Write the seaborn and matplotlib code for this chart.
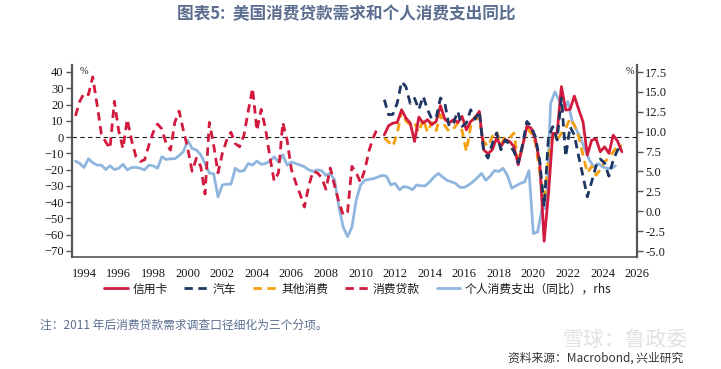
import numpy as np
import pandas as pd
import seaborn as sns
import matplotlib.pyplot as plt
from matplotlib.lines import Line2D

# ---- data (quarterly) ----
# consumer loan demand, 1993Q3 - 2011Q1 (left axis, %)
loan_start = 1993.5
loan_vals = [13, 22,
             27, 26, 37, 20,
             2, -3, -7, 22,
             4, -7, 11, -2,
             -12, -15, -14, -5,
             3, 8, 5, -4,
             -8, 9, 16, 4,
             -7, -21, -13, -18,
             -35, 9, -5, -22,
             -10, -2, 3, -4,
             -6, 1, 16, 30,
             4, 17, 5, -12,
             -27, -22, 9, -2,
             -20, -28, -35, -43,
             -30, -21, -22, -25,
             -32, -19, -30, -40,
             -48, -46, -18, -22,
             -28, -20, -8, 0,
             6]

# personal consumption expenditure yoy, 1993Q3 - 2024Q4 (right axis, %)
pce_start = 1993.5
pce_vals = [6.3, 6.0,
            5.5, 6.6, 6.1, 5.8,
            5.8, 5.25, 5.7, 5.25,
            5.4, 5.9, 5.2, 5.5,
            5.5, 5.4, 5.2, 5.8,
            5.7, 5.4, 6.85, 6.5,
            6.6, 6.6, 7.0, 7.5,
            8.9, 7.9, 7.7, 7.1,
            6.0, 4.8, 4.7, 1.8,
            3.3, 3.4, 3.4, 5.4,
            5.0, 5.1, 6.0, 5.8,
            6.3, 5.9, 6.0, 6.3,
            6.85, 6.2, 7.1, 5.8,
            6.2, 6.0, 5.8, 5.6,
            5.2, 5.0, 5.2, 5.1,
            4.5, 4.8, 3.9, 0.5,
            -2.0, -3.2, -2.0, 1.4,
            3.3, 3.9, 4.0, 4.1,
            4.3, 4.5, 4.4, 3.3,
            3.5, 2.7, 3.1, 3.0,
            2.7, 3.3, 3.2, 3.2,
            3.7, 4.3, 4.75, 4.3,
            3.9, 3.7, 3.5, 3.0,
            3.0, 3.3, 3.7, 4.2,
            4.75, 3.9, 4.4, 5.1,
            5.0, 5.4, 4.5, 2.9,
            3.2, 3.5, 3.7, 5.1,
            -2.8, -2.6, 0.35, 0.35,
            13.55, 15.0, 13.9, 12.7,
            13.8, 11.3, 10.2, 9.1,
            7.7, 6.4, 5.6, 6.0,
            5.6, 5.4, 5.4, 5.7]

# split series since 2011Q2 (plotted mid-quarter)
split_start = 2011.375
card_vals = [1.4, 7, 8.6,
             9, 16.8, 11.7, 8.6,
             -2.7, 12.3, 8.6, 10.7,
             7.6, 9.6, 19.3, 11,
             8.6, 10.7, 9, 12.7,
             4.5, 9.6, 11.7, 15.8,
             -7.8, -10.2, -7.8, -0.6,
             -5.7, -1.6, -2.7, -5.7,
             -17, -5.7, 6.6, 5.5,
             -1.6, -16, -64, -35,
             2.3, 2.3, 31, 16.6,
             17, 25.2, 17, 9.4,
             -11, -2, -1, -9,
             -6, -10, 1.2, -2.5,
             -9]
auto_vals = [23, 13.7, 14,
             21, 34, 31, 20.7,
             23.8, 17, 25, 17,
             11, 12, 24, 21,
             6.6, 8.6, 15.8, 6.6,
             8.6, 16.8, 11, 15.8,
             -8.8, -12.9, -4, 2.5,
             -7.8, -1.6, -4.7, -8.8,
             -16, -4.7, 9.6, 6.6,
             0, -15, -43, 0,
             6.4, -1.8, 24, -12,
             6.4, 1.2, -12, -24,
             -36.7, -27.5, -18, -13.5,
             -16, -24, -14, -8,
             -5.5]
other_vals = [-0.6, -3, -5.7,
              2.5, 15.8, 10, 7.6,
              8.6, 3, 11, 3,
              9, 4, 13.7, 7,
              3.5, 5, 8.6, 4,
              -8.8, 6.6, 12.7, 10,
              -2.7, -5.7, 0.4, 3.5,
              -4.7, 0.4, -0.6, 2.5,
              -15, -5.7, 5.5, 2.5,
              -3.7, -22, -40.8, -12,
              0.2, -1.8, 2.3, 5.3,
              11.5, 7.4, 0.2, -11,
              -22, -18, -23.4, -20,
              -15, -13, -9, -5.5,
              -5.5]

x_ticks = list(range(1994, 2027, 2))
left_ticks = list(range(-70, 41, 10))
right_ticks = [-5.0, -2.5, 0.0, 2.5, 5.0, 7.5, 10.0, 12.5, 15.0, 17.5]

labels = ['信用卡', '汽车', '其他消费', '消费贷款', '个人消费支出（同比），rhs']
c_red = '#d21a3e'
c_navy = '#1e3762'
c_orange = '#f5a00c'
c_blue = '#8fb6de'

loan = pd.DataFrame({'year': loan_start + 0.25 * np.arange(len(loan_vals)), 'v': loan_vals})
pce = pd.DataFrame({'year': pce_start + 0.25 * np.arange(len(pce_vals)), 'v': pce_vals})
split_year = split_start + 0.25 * np.arange(len(card_vals))
card = pd.DataFrame({'year': split_year, 'v': card_vals})
auto = pd.DataFrame({'year': split_year, 'v': auto_vals})
other = pd.DataFrame({'year': split_year, 'v': other_vals})

sns.set_style('white')
plt.rcParams['font.family'] = ['Noto Sans CJK SC', 'DejaVu Sans']

W, H = 721, 369
fig = plt.figure(figsize=(W / 100, H / 100), dpi=100)
ax = fig.add_axes([72 / W, 1 - 257 / H, (637 - 72) / W, (257 - 65) / H])
ax2 = ax.twinx()

dash = (0, (3, 2))
sns.lineplot(data=pce, x='year', y='v', ax=ax2, color=c_blue, linewidth=2.0)
sns.lineplot(data=loan, x='year', y='v', ax=ax, color=c_red, linewidth=2.0, linestyle=dash)
sns.lineplot(data=other, x='year', y='v', ax=ax, color=c_orange, linewidth=2.0, linestyle=dash)
sns.lineplot(data=card, x='year', y='v', ax=ax, color=c_red, linewidth=2.0)
sns.lineplot(data=auto, x='year', y='v', ax=ax, color=c_navy, linewidth=2.0, linestyle=dash)
ax.axhline(0, color='#222222', linewidth=0.8, linestyle=(0, (4, 3)), zorder=1)

ax.set_zorder(ax2.get_zorder() + 1)
ax.patch.set_visible(False)

ax.set_xlim(1993.3, 2026)
ax.set_ylim(-73.7, 44.3)
ax2.set_ylim(-5.75, 18.38)
ax.set_xticks(x_ticks)
ax.set_yticks(left_ticks)
ax2.set_yticks(right_ticks)
ax2.set_yticklabels([f'{t:.1f}' for t in right_ticks])
for a in (ax, ax2):
    a.set_xlabel('')
    a.set_ylabel('')

tick_font = dict(family='Liberation Serif', size=9, color='#1a1a1a')
for lab in ax.get_xticklabels() + ax.get_yticklabels() + ax2.get_yticklabels():
    lab.set_fontfamily(tick_font['family'])
    lab.set_fontsize(tick_font['size'])
    lab.set_color(tick_font['color'])

ax.tick_params(axis='x', direction='out', length=4, width=1, color='#555555', pad=4)
ax.tick_params(axis='y', direction='out', length=4, width=1, color='#555555', pad=2)
ax2.tick_params(axis='y', direction='out', length=4, width=1, color='#555555', pad=2)

for s in ('top', 'right'):
    ax.spines[s].set_visible(False)
for s in ('top', 'left', 'bottom'):
    ax2.spines[s].set_visible(False)
ax.spines['left'].set_color('#555555')
ax.spines['left'].set_linewidth(1.6)
ax.spines['bottom'].set_color('#555555')
ax.spines['bottom'].set_linewidth(1.2)
ax2.spines['right'].set_color('#555555')
ax2.spines['right'].set_linewidth(1.6)

fig.text(80 / W, 1 - 72 / H, '%', fontsize=7.5, color='#1a1a1a', ha='left', va='center',
         family='Liberation Serif')
fig.text(634 / W, 1 - 72 / H, '%', fontsize=7.5, color='#1a1a1a', ha='right', va='center',
         family='Liberation Serif')

handles = [Line2D([], [], color=c_red, lw=2),
           Line2D([], [], color=c_navy, lw=2, ls=dash),
           Line2D([], [], color=c_orange, lw=2, ls=dash),
           Line2D([], [], color=c_red, lw=2, ls=dash),
           Line2D([], [], color=c_blue, lw=2)]
fig.legend(handles, labels, loc='center', bbox_to_anchor=(358 / W, 1 - 289 / H), ncol=5,
           frameon=False, fontsize=8.5, handlelength=2.0, handletextpad=0.4,
           columnspacing=1.4, labelcolor='#1a1a1a')

fig.text(346 / W, 1 - 14 / H, '图表5:  美国消费贷款需求和个人消费支出同比', ha='center', va='center',
         fontsize=12, fontweight='bold', color='#5b6e90')
fig.text(40 / W, 1 - 325 / H, '注：2011 年后消费贷款需求调查口径细化为三个分项。', ha='left', va='center',
         fontsize=8.5, color='#5b6e90')
fig.text(625 / W, 1 - 340 / H, '雪球：鲁政委', ha='center', va='center',
         fontsize=15, color='#e2e2e2')
fig.text(683 / W, 1 - 358 / H, '资料来源：Macrobond, 兴业研究', ha='right', va='center',
         fontsize=8.5, color='#333333')

fig.savefig('out.png', dpi=100)
